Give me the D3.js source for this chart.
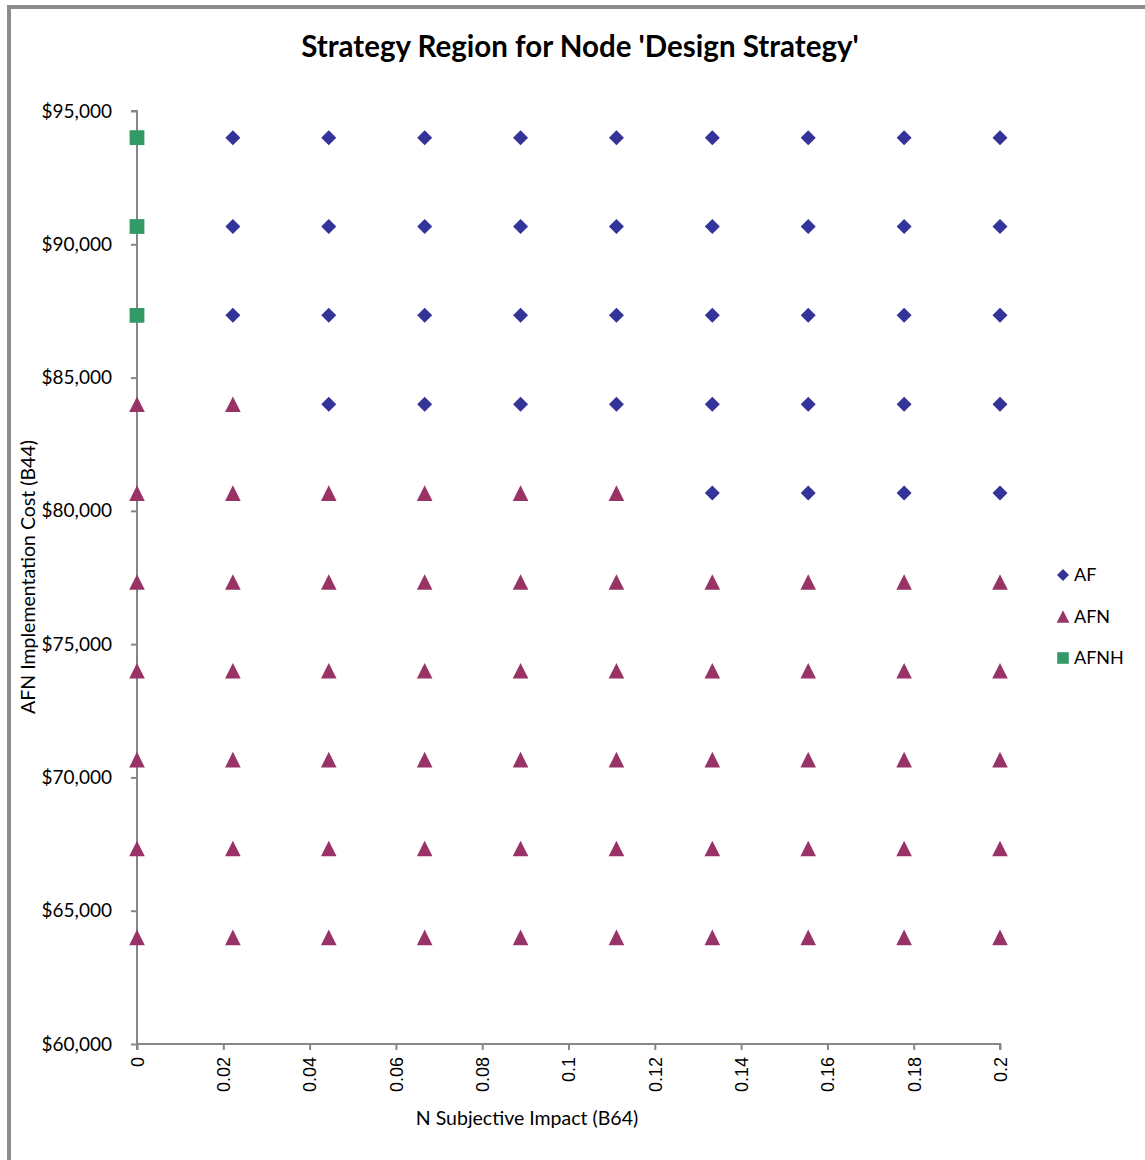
<!DOCTYPE html>
<html>
<head>
<meta charset="utf-8">
<script src="https://cdn.jsdelivr.net/npm/d3@7"></script>
<style>
  html, body { margin: 0; padding: 0; background: #fff; }
  svg { display: block; }
</style>
</head>
<body>
<svg id="chart" width="1145" height="1160"></svg>
<script>
// ---- data ----
const impactValues = [0, 0.2/9, 0.4/9, 0.6/9, 0.8/9, 1.0/9, 1.2/9, 1.4/9, 1.6/9, 0.2];
const costValues = [94000, 90666.67, 87333.33, 84000, 80666.67, 77333.33, 74000, 70666.67, 67333.33, 64000];
// strategy per row (cost, top to bottom) per column (impact, left to right)
const strategyGrid = [
  ["AFNH","AF","AF","AF","AF","AF","AF","AF","AF","AF"],
  ["AFNH","AF","AF","AF","AF","AF","AF","AF","AF","AF"],
  ["AFNH","AF","AF","AF","AF","AF","AF","AF","AF","AF"],
  ["AFN","AFN","AF","AF","AF","AF","AF","AF","AF","AF"],
  ["AFN","AFN","AFN","AFN","AFN","AFN","AF","AF","AF","AF"],
  ["AFN","AFN","AFN","AFN","AFN","AFN","AFN","AFN","AFN","AFN"],
  ["AFN","AFN","AFN","AFN","AFN","AFN","AFN","AFN","AFN","AFN"],
  ["AFN","AFN","AFN","AFN","AFN","AFN","AFN","AFN","AFN","AFN"],
  ["AFN","AFN","AFN","AFN","AFN","AFN","AFN","AFN","AFN","AFN"],
  ["AFN","AFN","AFN","AFN","AFN","AFN","AFN","AFN","AFN","AFN"]
];
const seriesNames = ["AF", "AFN", "AFNH"];
const xTicks = [0, 0.02, 0.04, 0.06, 0.08, 0.1, 0.12, 0.14, 0.16, 0.18, 0.2];
const yTicks = [60000, 65000, 70000, 75000, 80000, 85000, 90000, 95000];
const titleText = "Strategy Region for Node 'Design Strategy'";
const xTitle = "N Subjective Impact (B64)";
const yTitle = "AFN Implementation Cost (B44)";

// ---- styles ----
const colors = { AF: "#333399", AFN: "#993366", AFNH: "#339966" };
// custom marker shapes; size = half-extent in px
const shapes = {
  AF: { draw(ctx, r) { ctx.moveTo(0, -r); ctx.lineTo(r, 0); ctx.lineTo(0, r); ctx.lineTo(-r, 0); ctx.closePath(); } },
  AFN: { draw(ctx, r) { ctx.moveTo(0, -r); ctx.lineTo(r, r); ctx.lineTo(-r, r); ctx.closePath(); } },
  AFNH: { draw(ctx, r) { ctx.rect(-r, -r, 2 * r, 2 * r); } }
};
const markerHalf = { AF: 7.5, AFN: 7.8, AFNH: 7.4 };
const legendHalf = { AF: 6, AFN: 6.3, AFNH: 5.8 };
const calibri = "Lato, 'Open Sans', sans-serif";
const arial = "'Liberation Sans', Arial, sans-serif";
const axisGray = "#868686";

const svg = d3.select("#chart");

// chart border (gray frame, partly cropped)
svg.append("rect").attr("x", 9).attr("y", 7).attr("width", 1160).attr("height", 1170)
  .attr("fill", "#fff").attr("stroke", "#8c8c8c").attr("stroke-width", 4);

const x = d3.scaleLinear().domain([0, 0.2]).range([137, 1000]);
const y = d3.scaleLinear().domain([60000, 95000]).range([1044, 111]);

// y axis
const yAxis = svg.append("g").attr("transform", `translate(${x(0)},0)`)
  .call(d3.axisLeft(y).tickValues(yTicks).tickSize(6).tickPadding(19)
    .tickFormat(d => "$" + d3.format(",")(d)));
yAxis.select(".domain").attr("stroke", axisGray).attr("stroke-width", 2)
  .attr("d", `M-6,${y(95000)}H0V${y(60000)}`);
yAxis.selectAll(".tick line").attr("stroke", axisGray).attr("stroke-width", 2);
yAxis.selectAll(".tick text").attr("font-family", calibri).attr("font-size", 19).attr("fill", "#000");

// x axis
const xAxis = svg.append("g").attr("transform", `translate(0,${y(60000)})`)
  .call(d3.axisBottom(x).tickValues(xTicks).tickSize(6).tickFormat(d => d3.format("")(+d.toFixed(2))));
xAxis.select(".domain").attr("stroke", axisGray).attr("stroke-width", 2)
  .attr("d", `M${x(0)},6V0H${x(0.2)}V6`);
xAxis.selectAll(".tick line").attr("stroke", axisGray).attr("stroke-width", 2);
xAxis.selectAll(".tick text")
  .attr("font-family", arial).attr("font-size", 18).attr("fill", "#000")
  .attr("text-anchor", "end").attr("dy", "0.35em")
  .attr("transform", "translate(0,13) rotate(-90)")
  .attr("x", 0).attr("y", 0);

// points
const points = [];
costValues.forEach((c, i) => impactValues.forEach((v, j) => {
  points.push({ impact: v, cost: c, s: strategyGrid[i][j] });
}));
svg.append("g").selectAll("path").data(points).join("path")
  .attr("transform", d => `translate(${x(d.impact)},${y(d.cost)})`)
  .attr("d", d => d3.symbol(shapes[d.s], markerHalf[d.s])())
  .attr("fill", d => colors[d.s]);

// title
svg.append("text").attr("x", 580).attr("y", 57).attr("text-anchor", "middle")
  .attr("font-family", calibri).attr("font-weight", "bold").attr("font-size", 29.5)
  .attr("fill", "#000").text(titleText);

// axis titles
svg.append("text").attr("x", 527).attr("y", 1125).attr("text-anchor", "middle")
  .attr("font-family", calibri).attr("font-size", 19.5).attr("fill", "#000").text(xTitle);
svg.append("text").attr("transform", "translate(35,577) rotate(-90)").attr("text-anchor", "middle")
  .attr("font-family", calibri).attr("font-size", 19.5).attr("fill", "#000").text(yTitle);

// legend
const legend = svg.append("g");
seriesNames.forEach((s, i) => {
  const ly = 575 + i * 41.5;
  legend.append("path").attr("transform", `translate(1063,${ly})`)
    .attr("d", d3.symbol(shapes[s], legendHalf[s])()).attr("fill", colors[s]);
  legend.append("text").attr("x", 1074).attr("y", ly).attr("dy", "0.36em")
    .attr("font-family", calibri).attr("font-size", 18).attr("fill", "#000").text(s);
});
</script>
</body>
</html>
